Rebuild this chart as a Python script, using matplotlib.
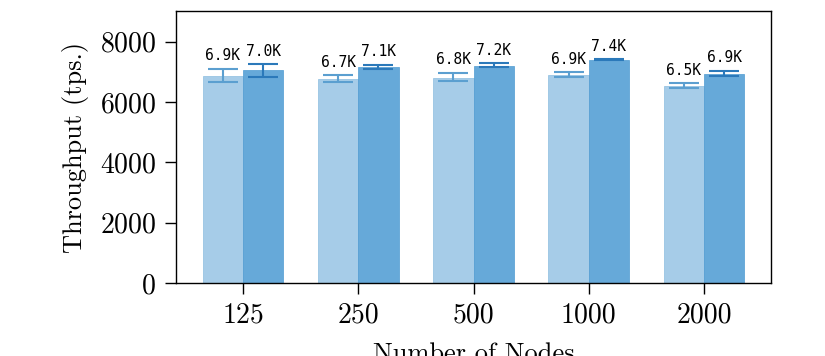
import numpy as np
import matplotlib.pyplot as plt

plt.rcParams['font.family'] = 'serif'
plt.rcParams['font.serif'] = ['cmr10']
plt.rcParams['mathtext.fontset'] = 'cm'
plt.rcParams['axes.formatter.use_mathtext'] = True

nodes = ['125', '250', '500', '1000', '2000']

# throughput values (tps)
base_vals = [6850, 6760, 6800, 6880, 6520]
base_lo = [6660, 6670, 6680, 6830, 6450]
base_hi = [7090, 6880, 6960, 6990, 6620]
base_txt = ['6.9K', '6.7K', '6.8K', '6.9K', '6.5K']

opt_vals = [7050, 7150, 7200, 7400, 6940]
opt_lo = [6830, 7090, 7150, 7380, 6860]
opt_hi = [7250, 7230, 7280, 7420, 7030]
opt_txt = ['7.0K', '7.1K', '7.2K', '7.4K', '6.9K']

x = np.arange(len(nodes))
w = 0.35

fig, ax = plt.subplots(figsize=(8.25, 3.56), dpi=100)
fig.subplots_adjust(left=0.213, right=0.935, top=0.968, bottom=0.205)

series = [
    (x - w/2, base_vals, base_lo, base_hi, base_txt, '#a6cce8', '#8dbde0', '#5b9fd0'),
    (x + w/2, opt_vals, opt_lo, opt_hi, opt_txt, '#66a9d9', '#4f9bd2', '#2b79ba'),
]
for pos, vals, lo, hi, txt, col, edge, ecol in series:
    vals = np.array(vals)
    yerr = [vals - np.array(lo), np.array(hi) - vals]
    ax.bar(pos, vals, w, color=col, edgecolor=edge, linewidth=0.5,
           yerr=yerr, ecolor=ecol, capsize=11,
           error_kw=dict(elinewidth=1.5, capthick=1.5))
    for p, h, t in zip(pos, hi, txt):
        ax.annotate(t, (p, h), xytext=(0, 4), textcoords='offset points',
                    ha='center', va='bottom', fontsize=10.5,
                    family='DejaVu Sans Mono')

ax.set_ylim(0, 9000)
ax.set_yticks([0, 2000, 4000, 6000, 8000])
ax.set_xticks(x)
ax.set_xticklabels(nodes)
ax.tick_params(axis='both', labelsize=20, length=8, width=1, pad=6)
ax.set_ylabel('Throughput (tps.)', fontsize=19, labelpad=8)
ax.set_xlabel('Number of Nodes', fontsize=19, labelpad=10)
for s in ax.spines.values():
    s.set_linewidth(1)

plt.savefig('out.png')
